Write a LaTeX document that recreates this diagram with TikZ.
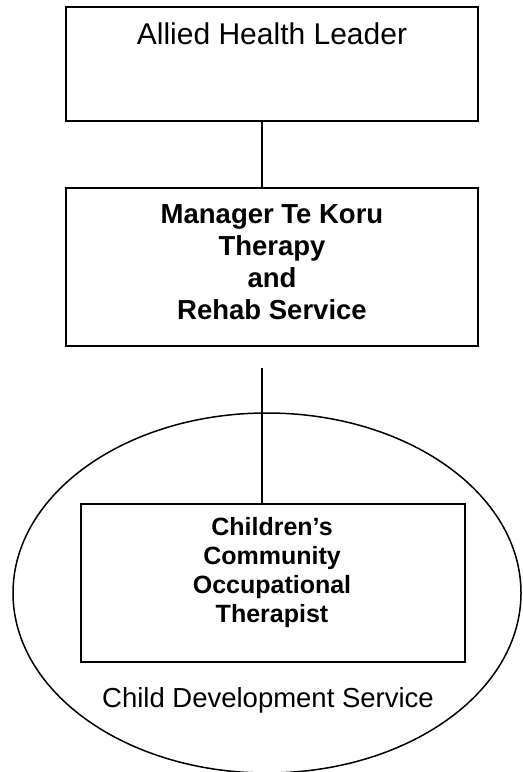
\documentclass[tikz,border=0pt]{standalone}
\usepackage{fontspec}
\setmainfont{Liberation Sans}
\usetikzlibrary{shapes.geometric}
\begin{document}
\begin{tikzpicture}[x=0.4pt,y=-0.4pt,
  box/.style={draw, line width=0.75pt, rectangle, inner sep=0pt},
  conn/.style={draw, line width=0.45pt},
  txt/.style={inner sep=0pt, align=center}]
\useasboundingbox (0,0) rectangle (522,772);
\clip (0,0) rectangle (522,772);
\fill[white] (0,0) rectangle (522,772);
% ellipse
\node[draw, ellipse, line width=0.6pt, inner sep=0pt, minimum width=508*0.4pt, minimum height=360*0.4pt] (cds) at (267,593) {};
% boxes
\node[box, minimum width=412*0.4pt, minimum height=114*0.4pt] (b1) at (272,64) {};
\node[box, minimum width=412*0.4pt, minimum height=158*0.4pt] (b2) at (272,267) {};
\node[box, minimum width=384*0.4pt, minimum height=158*0.4pt] (b3) at (273,583) {};
% texts
\node[txt, anchor=base, font=\fontsize{12}{14}\selectfont] (t1) at (272,45) {Allied Health Leader};
\node[txt, font=\fontsize{11}{12.8}\selectfont\bfseries] (t2) at (272,262) {Manager Te Koru\\Therapy\\and\\Rehab Service};
\node[txt, font=\fontsize{10}{11.5}\selectfont\bfseries] (t3) at (272,572.5) {Children’s\\Community\\Occupational\\Therapist};
\node[txt, anchor=base, font=\fontsize{11}{13}\selectfont] (t4) at (268,707) {Child Development Service};
% connectors
\coordinate (lx) at (262,0);
\coordinate (top2) at (262,368);
\draw[conn] (b1.south -| lx) -- (b2.north -| lx);
\draw[conn] (top2) -- (b3.north -| top2);
\end{tikzpicture}
\end{document}
